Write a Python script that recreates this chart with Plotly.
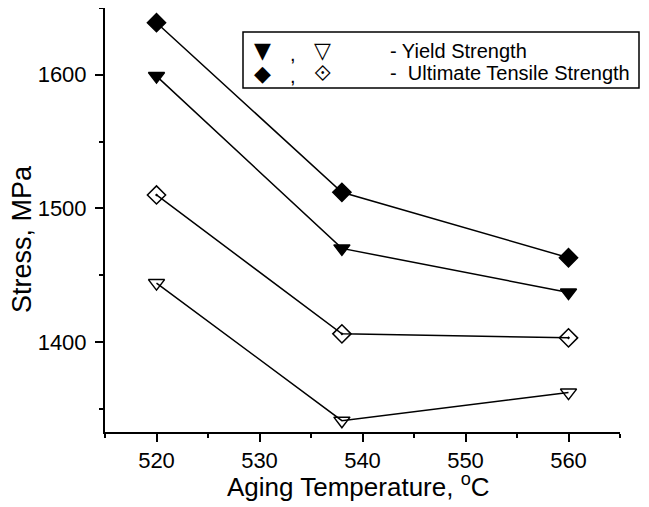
import plotly.graph_objects as go

temps = [520, 538, 560]
ys_filled = [1599, 1470, 1437]
uts_filled = [1639, 1512, 1463]
uts_open = [1510, 1406, 1403]
ys_open = [1444, 1341, 1362]

FONT = "Liberation Sans"
OFF = 8  # page body margin
# reference pixel positions of the plot area
RL, RR, RT, RB = 105, 620, 8, 432
W, H = 649 - OFF, 507 - OFF
L = RL - OFF
T = RT - OFF
pw = RR - RL
ph = RB - RT
R = W - L - pw
B = H - T - ph

def px(x):
    return (x - RL) / pw

def py(y):
    return (RB - y) / ph

fig = go.Figure()
series = [
    (uts_filled, "diamond", 14),
    (ys_filled, "triangle-down", 14),
    (uts_open, "diamond-open-dot", 14),
    (ys_open, "triangle-down-open", 14),
]
for vals, sym, sz in series:
    fig.add_trace(go.Scatter(
        x=temps, y=vals, mode="lines+markers",
        line=dict(color="black", width=1.5),
        marker=dict(symbol=sym, size=sz, color="black",
                    line=dict(color="black", width=1.5)),
        showlegend=False, cliponaxis=False,
    ))

fig.update_layout(
    width=W, height=H,
    margin=dict(l=L, r=R, t=T, b=B, pad=0),
    plot_bgcolor="white", paper_bgcolor="white",
    font=dict(family=FONT, color="black", size=22),
)
fig.update_xaxes(
    range=[515, 565], dtick=10, tick0=520, showgrid=False, zeroline=False,
    showline=True, linecolor="black", linewidth=2,
    ticks="outside", ticklen=8, tickwidth=1.5, tickcolor="black",
    minor=dict(dtick=5, ticks="outside", ticklen=4, tickwidth=1.5, tickcolor="black", showgrid=False),
    tickfont=dict(size=22, family=FONT),
)
fig.update_yaxes(
    range=[1332.5, 1650], dtick=100, tick0=1400, showgrid=False, zeroline=False,
    showline=True, linecolor="black", linewidth=2,
    ticks="outside", ticklen=8, tickwidth=1.5, tickcolor="black",
    minor=dict(dtick=50, ticks="outside", ticklen=4, tickwidth=1.5, tickcolor="black", showgrid=False),
    tickfont=dict(size=22, family=FONT), ticklabelstandoff=4,
)

# axis titles
fig.add_annotation(xref="paper", yref="paper", x=px(358), y=py(486),
                   text="Aging Temperature, <sup>o</sup>C", showarrow=False,
                   font=dict(size=26, family=FONT), xanchor="center", yanchor="middle")
fig.add_annotation(xref="paper", yref="paper", x=px(22), y=py(239),
                   text="Stress, MPa", showarrow=False, textangle=-90,
                   font=dict(size=27, family=FONT), xanchor="center", yanchor="middle")

# legend box
fig.add_shape(type="rect", xref="paper", yref="paper",
              x0=px(243), x1=px(639), y0=py(88), y1=py(32),
              line=dict(color="black", width=1.5), fillcolor="white")
rows = [(51, "\u25BC", "\u25BD", "- Yield Strength"),
        (73, "\u25C6", "\u27D0", "-  Ultimate Tensile Strength")]
for yy, s1, s2, label in rows:
    fig.add_annotation(xref="paper", yref="paper", x=px(262), y=py(yy), text=s1,
                       showarrow=False, font=dict(size=22, family="DejaVu Sans"),
                       xanchor="center", yanchor="middle")
    fig.add_annotation(xref="paper", yref="paper", x=px(293), y=py(yy + 3), text=",",
                       showarrow=False, font=dict(size=20, family=FONT),
                       xanchor="center", yanchor="middle")
    fig.add_annotation(xref="paper", yref="paper", x=px(322), y=py(yy), text=s2,
                       showarrow=False, font=dict(size=22, family="DejaVu Sans"),
                       xanchor="center", yanchor="middle")
    fig.add_annotation(xref="paper", yref="paper", x=px(388), y=py(yy), text=label,
                       showarrow=False, font=dict(size=20, family=FONT),
                       xanchor="left", yanchor="middle")

fig.write_html("out.html")
